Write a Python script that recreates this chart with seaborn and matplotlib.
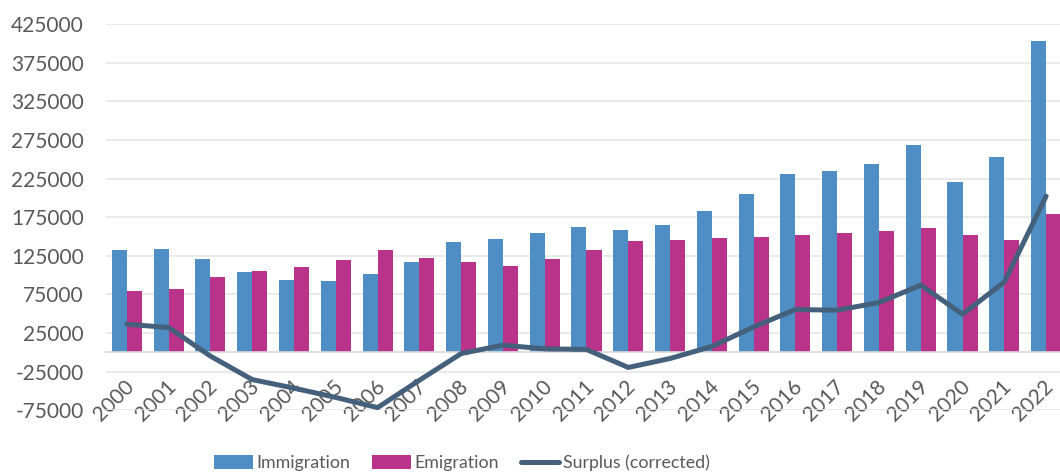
import numpy as np
import pandas as pd
import matplotlib
matplotlib.use("Agg")
import matplotlib.pyplot as plt
import matplotlib.transforms as mtransforms
from matplotlib.lines import Line2D
from matplotlib.patches import Patch
import seaborn as sns

years = [str(y) for y in range(2000, 2023)]
immigration = [133000, 133400, 121300, 104000, 94100, 92000, 101000, 116500, 143300, 146300,
               154500, 162800, 158400, 164500, 182600, 204600, 230900, 235300, 243900, 269000,
               220500, 252500, 402800]
emigration = [79000, 82500, 97100, 104900, 110100, 120000, 133000, 122600, 117500, 111800,
              121300, 133000, 144700, 146000, 148100, 149800, 151500, 154100, 157600, 161500,
              152400, 145500, 179600]
surplus = [36300, 32000, -5000, -35400, -46500, -58500, -71700, -36300, -1700, 9200,
           4400, 3600, -19700, -8100, 7500, 32800, 55300, 54500, 64400, 86900,
           49200, 91000, 202000]
series_names = ["Immigration", "Emigration", "Surplus (corrected)"]
yticks = list(range(-75000, 425001, 50000))

BLUE = "#4e8ec4"
PINK = "#b9338a"
LINE = "#44607b"
TXT = "#595959"
GRID = "#e6e6e6"
AXIS = "#d9d9d9"

sns.set_theme(style="white")
plt.rcParams["font.family"] = ["Lato", "DejaVu Sans"]

df = pd.DataFrame({
    "Year": years * 2,
    "Series": [series_names[0]] * len(years) + [series_names[1]] * len(years),
    "Value": immigration + emigration,
})

fig = plt.figure(figsize=(10.6, 4.72), dpi=100)
ax = fig.add_axes([0.1, 0.131, 0.9066, 0.818])

sns.barplot(data=df, x="Year", y="Value", hue="Series", order=years,
            hue_order=series_names[:2], palette=[BLUE, PINK], width=0.72,
            linewidth=0, saturation=1, ax=ax, legend=False, zorder=2)
sns.lineplot(x=np.arange(len(years)), y=surplus, color=LINE, linewidth=3.6,
             ax=ax, zorder=4, solid_capstyle="round", solid_joinstyle="round")

ax.set_xlim(-0.5, len(years) - 0.5)
ax.set_ylim(-75000, 425000)
ax.set_yticks(yticks)
ax.set_yticklabels([str(v) for v in yticks])
ax.yaxis.grid(True, color=GRID, linewidth=1.2, zorder=0)
ax.set_axisbelow(True)
ax.set_xlabel("")
ax.set_ylabel("")

for s in ["left", "right", "top"]:
    ax.spines[s].set_visible(False)
ax.spines["bottom"].set_position(("data", 0))
ax.spines["bottom"].set_color(AXIS)
ax.spines["bottom"].set_linewidth(1.2)
ax.spines["bottom"].set_zorder(3)

ax.set_xticks(np.arange(len(years)))
ax.set_xticks(np.arange(len(years) + 1) - 0.5, minor=True)
ax.tick_params(axis="x", which="major", length=0, pad=17.5, labelsize=15, labelcolor=TXT)
ax.tick_params(axis="x", which="minor", length=6, width=1.2, color=AXIS, direction="out")
ax.tick_params(axis="y", length=0, pad=16, labelsize=15, labelcolor=TXT)
offset = mtransforms.ScaledTranslation(-3 / 100, 0, fig.dpi_scale_trans)
for lab in ax.get_xticklabels():
    lab.set_rotation(45)
    lab.set_ha("right")
    lab.set_va("top")
    lab.set_rotation_mode("anchor")
    lab.set_transform(lab.get_transform() + offset)

handles = [Patch(facecolor=BLUE, edgecolor="none"),
           Patch(facecolor=PINK, edgecolor="none"),
           Line2D([0], [0], color=LINE, linewidth=3.6, solid_capstyle="round")]
leg = fig.legend(handles, series_names, loc="center", bbox_to_anchor=(462 / 1060, 1 - 463 / 472),
                 ncol=3, frameon=False, fontsize=12.8, handlelength=2.15, handleheight=0.8,
                 handletextpad=0.2, columnspacing=1.25, borderaxespad=0, borderpad=0)
for t in leg.get_texts():
    t.set_color(TXT)

fig.savefig("out.png", dpi=100)
